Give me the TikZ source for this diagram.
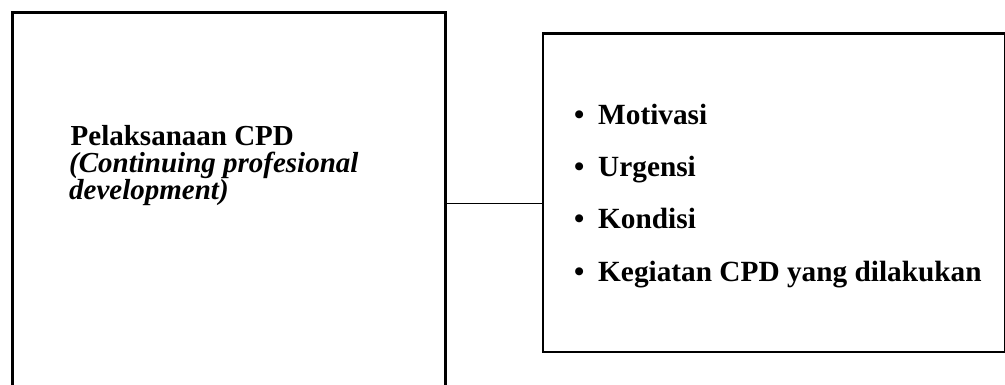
\documentclass[tikz,border=0pt]{standalone}
\usepackage{fontspec}
\setmainfont{Liberation Serif}
\begin{document}
\begin{tikzpicture}[x=1pt,y=-1pt,
  box/.style={draw=black, line width=3pt, inner sep=0pt, fill=none},
  link/.style={draw=black, line width=1.4pt},
  ttl/.style={anchor=base west, inner sep=0pt, font=\fontsize{29}{30}\selectfont\bfseries},
  sub/.style={anchor=base west, inner sep=0pt, font=\fontsize{29}{30}\selectfont\bfseries\itshape},
  item/.style={anchor=base west, inner sep=0pt, font=\fontsize{29.3}{30}\selectfont\bfseries}]
\useasboundingbox (0,0) rectangle (1005,385);
\clip (0,0) rectangle (1005,385);
\node[box, minimum width=433pt, minimum height=420pt, anchor=north west] (L) at (11,11.5) {};
\node[box, line width=2.6pt, minimum width=462pt, minimum height=318.5pt, anchor=north west] (R) at (541.5,32) {};
\coordinate (c) at (0,203.5);
\draw[link] (L.east |- c) -- (R.west |- c);
\node[ttl] (t1) at (70.5,146) {Pelaksanaan CPD};
\node[sub] (t2) at (69,173) {(Continuing profesional};
\node[sub] (t3) at (69,200) {development)};
\node[item] (i1) at (574,125) {\makebox[24pt][l]{•}Motivasi};
\node[item] (i2) at (574,177) {\makebox[24pt][l]{•}Urgensi};
\node[item] (i3) at (574,229) {\makebox[24pt][l]{•}Kondisi};
\node[item] (i4) at (574,281) {\makebox[24pt][l]{•}Kegiatan CPD yang dilakukan};
\end{tikzpicture}
\end{document}
